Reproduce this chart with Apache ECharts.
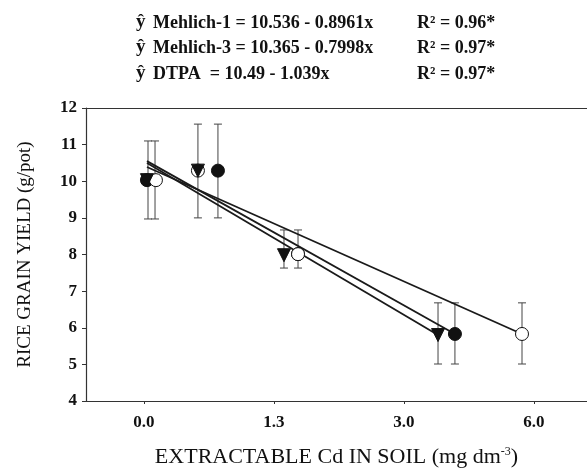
<!DOCTYPE html>
<html>
<head>
<meta charset="utf-8">
<script src="https://cdn.jsdelivr.net/npm/echarts@6/dist/echarts.min.js"></script>
<style>
  html, body { margin: 0; padding: 0; background: #fff; }
  #chart { width: 587px; height: 468px; }
</style>
</head>
<body>
<div id="chart"></div>
<script>
const serif = "'Liberation Serif', 'Times New Roman', serif";

// x positions are tick slots (0..3), labelled with the Cd doses
const tickPos = [0, 1, 2, 3];
const tickLabels = ["0.0", "1.3", "3.0", "6.0"];

// markers
const filledPts = [[0.023, 10.03], [0.569, 10.29], [1.185, 8.01], [2.392, 5.83]];
const openPts = [[0.092, 10.03], [0.415, 10.29], [1.185, 8.01], [2.908, 5.83]];
const trianglePts = [[0.023, 10.03], [0.415, 10.29], [1.077, 7.98], [2.262, 5.80]];

// fitted lines (start, end)
const lineOpen = [[0.023, 10.39], [2.908, 5.83]];
const lineFilled = [[0.023, 10.55], [2.392, 5.83]];
const lineTriangle = [[0.023, 10.50], [2.262, 5.80]];

// error bars
const errX = [0.031, 0.085, 0.415, 0.569, 1.077, 1.185, 2.262, 2.392, 2.908];
const errLow = [8.97, 8.97, 9.00, 9.00, 7.63, 7.63, 5.01, 5.01, 5.01];
const errHigh = [11.10, 11.10, 11.56, 11.56, 8.67, 8.67, 6.68, 6.68, 6.68];

const equations = [
  ["Mehlich-1 = 10.536 - 0.8961x", "R\u00b2 = 0.96*"],
  ["Mehlich-3 = 10.365 - 0.7998x", "R\u00b2 = 0.97*"],
  ["DTPA  = 10.49 - 1.039x", "R\u00b2 = 0.97*"]
];
const eqRowY = [24, 49, 75];

const errData = errX.map((x, i) => [x, errLow[i], errHigh[i]]);

const chart = echarts.init(document.getElementById("chart"));

const graphics = [];
equations.forEach((row, i) => {
  const y = eqRowY[i];
  graphics.push({ type: "text", left: 136, top: y - 11,
    style: { text: "\u0177", font: "bold 19px " + serif, fill: "#111" } });
  graphics.push({ type: "text", left: 153, top: y - 10,
    style: { text: row[0], font: "bold 18px " + serif, fill: "#111" } });
  graphics.push({ type: "text", left: 417, top: y - 10,
    style: { text: row[1], font: "bold 18px " + serif, fill: "#111" } });
});

const axisCol = "#333";

chart.setOption({
  animation: false,
  backgroundColor: "#fff",
  grid: { left: 86, top: 108, right: 0, bottom: 67, containLabel: false, outerBoundsMode: "none" },
  graphic: graphics,
  xAxis: [{
    type: "value",
    min: -0.446,
    max: 3.408,
    name: "{t|EXTRACTABLE Cd IN SOIL (mg dm}{s|-3}{t|)}",
    nameLocation: "middle",
    nameGap: 45,
    nameTextStyle: {
      rich: {
        t: { fontFamily: serif, fontSize: 22, color: "#111" },
        s: { fontFamily: serif, fontSize: 12, color: "#111", verticalAlign: "top", padding: [0, 0, 10, 0] }
      }
    },
    axisLine: { show: true, onZero: false, lineStyle: { color: axisCol, width: 1.2 } },
    axisTick: { show: true, length: 3, customValues: tickPos, lineStyle: { color: axisCol } },
    axisLabel: {
      customValues: tickPos,
      margin: 13,
      fontFamily: serif, fontWeight: "bold", fontSize: 17, color: "#111",
      formatter: (v) => tickLabels[Math.round(v)]
    },
    splitLine: { show: false }
  }, {
    type: "value",
    position: "top",
    min: -0.446,
    max: 3.408,
    axisLine: { show: true, onZero: false, lineStyle: { color: axisCol, width: 1.2 } },
    axisTick: { show: false },
    axisLabel: { show: false },
    splitLine: { show: false }
  }],
  yAxis: {
    type: "value",
    min: 4,
    max: 12,
    interval: 1,
    name: "RICE GRAIN YIELD (g/pot)",
    nameLocation: "middle",
    nameGap: 51,
    nameTextStyle: { fontFamily: serif, fontSize: 19, color: "#111" },
    axisLine: { show: true, onZero: false, lineStyle: { color: axisCol, width: 1.2 } },
    axisTick: { show: true, length: 4, lineStyle: { color: axisCol } },
    axisLabel: { margin: 9, fontFamily: serif, fontWeight: "bold", fontSize: 17, color: "#111" },
    splitLine: { show: false }
  },
  series: [
    {
      type: "custom",
      data: errData,
      z: 1,
      renderItem: (params, api) => {
        const top = api.coord([api.value(0), api.value(2)]);
        const bot = api.coord([api.value(0), api.value(1)]);
        const cap = 4;
        const style = { stroke: "#444", lineWidth: 1 };
        return {
          type: "group",
          children: [
            { type: "line", shape: { x1: top[0], y1: top[1], x2: bot[0], y2: bot[1] }, style },
            { type: "line", shape: { x1: top[0] - cap, y1: top[1], x2: top[0] + cap, y2: top[1] }, style },
            { type: "line", shape: { x1: bot[0] - cap, y1: bot[1], x2: bot[0] + cap, y2: bot[1] }, style }
          ]
        };
      }
    },
    { type: "line", data: lineOpen, showSymbol: false, symbol: "none", z: 2,
      lineStyle: { color: "#1a1a1a", width: 1.8 } },
    { type: "line", data: lineFilled, showSymbol: false, symbol: "none", z: 2,
      lineStyle: { color: "#1a1a1a", width: 1.8 } },
    { type: "line", data: lineTriangle, showSymbol: false, symbol: "none", z: 2,
      lineStyle: { color: "#1a1a1a", width: 1.8 } },
    { type: "scatter", data: filledPts, symbol: "circle", symbolSize: 13, z: 3,
      itemStyle: { color: "#111", borderColor: "#111", borderWidth: 1, opacity: 1 } },
    { type: "scatter", data: openPts, symbol: "circle", symbolSize: 13, z: 4,
      itemStyle: { color: "#fff", borderColor: "#111", borderWidth: 1, opacity: 1 } },
    { type: "scatter", data: trianglePts, symbol: "triangle", symbolRotate: 180, symbolSize: 13, z: 5,
      itemStyle: { color: "#111", borderColor: "#111", borderWidth: 1, opacity: 1 } }
  ]
});
</script>
</body>
</html>
